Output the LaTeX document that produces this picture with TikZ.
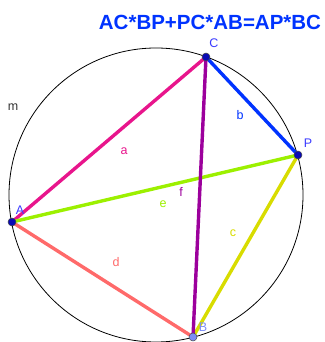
\documentclass[tikz,border=0pt]{standalone}
\usepackage{fontspec}
\setmainfont{Liberation Sans}
\usetikzlibrary{calc}
\definecolor{azul}{HTML}{0033FF}
\definecolor{rosa}{HTML}{E8158C}
\definecolor{amarelo}{HTML}{D8DC00}
\definecolor{salmao}{HTML}{FF6A6A}
\definecolor{limao}{HTML}{9CF000}
\definecolor{roxo}{HTML}{9C009C}
\definecolor{azulponto}{HTML}{0A0AB4}
\definecolor{azulclaro}{HTML}{7B8CF5}
\definecolor{rotulo}{HTML}{3A3AFF}
\newcommand{\ponto}[2]{\fill[#1] #2 circle (4pt); \draw[black!70,line width=0.5pt] #2 circle (4pt);}

\begin{document}
\begin{tikzpicture}[x=1pt,y=1pt]
      \useasboundingbox (0,0) rectangle (324,342);
      \coordinate (O) at (156,147);
      \coordinate (A) at (12,120);
      \coordinate (B) at (193,5);
      \coordinate (C) at (206,285);
      \coordinate (P) at (298,187);
      \draw[black,line width=0.8pt] (O) circle (147pt);
      \node[black!80,font=\fontsize{12.5}{14}\selectfont] (m) at (13,235) {m};
      \begin{scope}[line width=3.4pt,line cap=round]
        \draw[rosa] (A) -- (C);
        \draw[azul] (C) -- (P);
        \draw[amarelo] (P) -- (B);
        \draw[salmao] (A) -- (B);
        \draw[limao] (A) -- (P);
        \draw[roxo] (C) -- (B);
      \end{scope}
      \begin{scope}[font=\fontsize{12.5}{14}\selectfont]
        \node[rosa] (la) at (124,191) {a};
        \node[azul] (lb) at (240,227) {b};
        \node[amarelo] (lc) at (233,109) {c};
        \node[salmao] (ld) at (116,80) {d};
        \node[limao] (le) at (163,138) {e};
        \node[roxo] (lf) at (181,150) {f};
        \node[rotulo] (lC) at (214,299) {C};
        \node[rotulo] (lP) at (308,199) {P};
        \node[rotulo] (lA) at (20,132) {A};
        \node[azulclaro] (lB) at (203,15) {B};
      \end{scope}
      \ponto{azulponto}{(A)}
      \ponto{azulponto}{(C)}
      \ponto{azulponto}{(P)}
      \ponto{azulclaro}{(B)}
      \node[azul,font=\fontsize{20.5}{24}\selectfont\bfseries] (titulo) at (210,320) {AC*BP+PC*AB=AP*BC};
    \end{tikzpicture}
\end{document}
